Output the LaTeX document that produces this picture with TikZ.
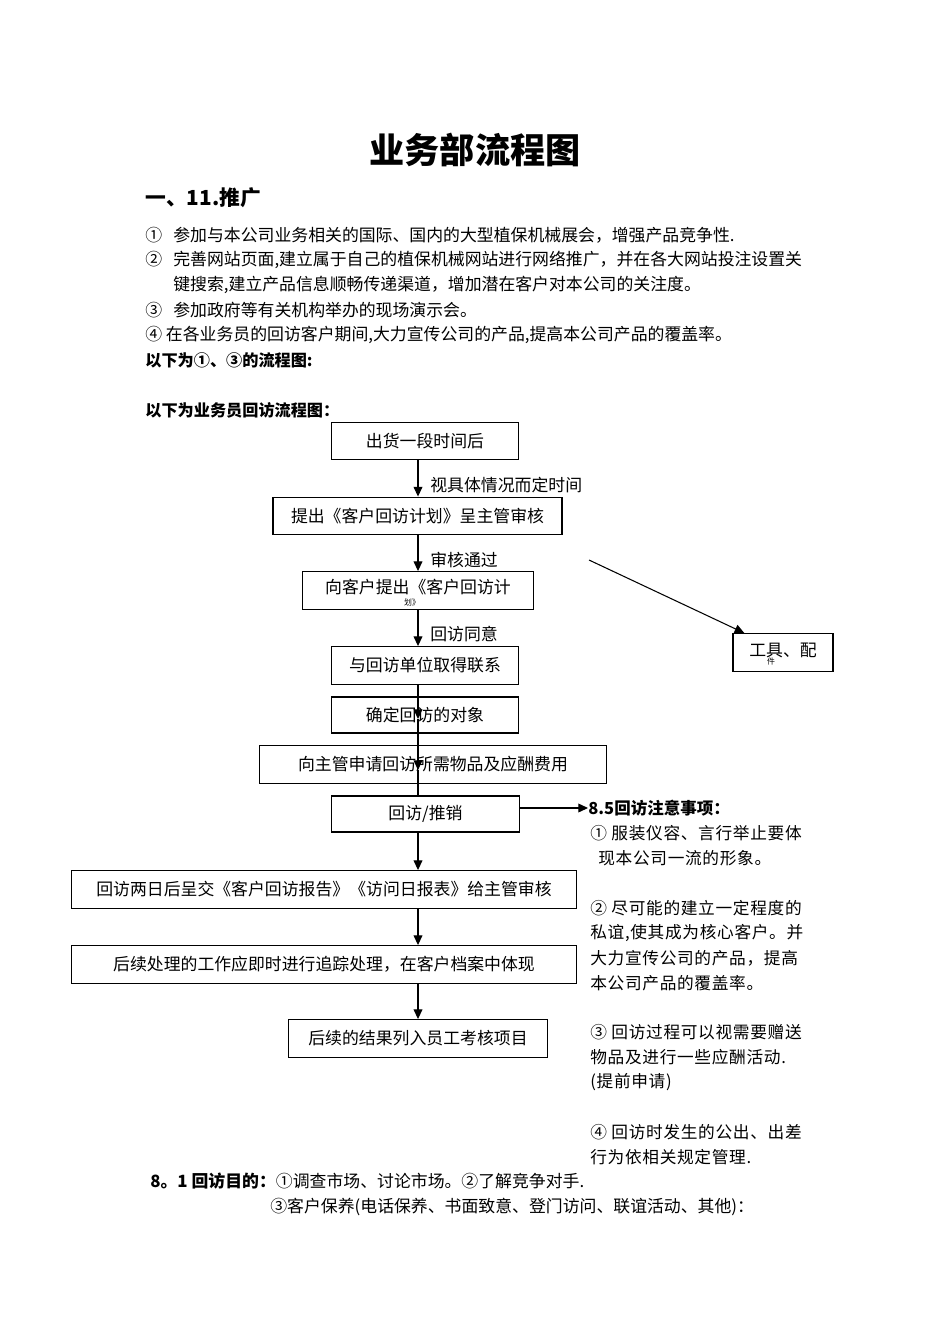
\documentclass[tikz,border=0pt]{standalone}
\usepackage{fontspec}
\setmainfont{Noto Sans CJK SC}
\newfontfamily\notefont[LetterSpace=4]{Noto Sans CJK SC}
\usepackage{tikz}
\usetikzlibrary{arrows.meta,calc}

\begin{document}
\begin{tikzpicture}[x=0.02cm, y=-0.02cm, every node/.style={font=\fontsize{9.6}{12}\selectfont, inner sep=0pt}]
  \tikzstyle{fbox}=[rectangle,draw,line width=0.8pt,minimum width=3.75cm,minimum height=0.75cm]
  \tikzstyle{flow}=[line width=0.6pt,-{Triangle[length=5.5pt,width=5pt]}]
  \tikzstyle{tag}=[anchor=west]
  \tikzstyle{bold}=[font=\fontsize{9.2}{12}\selectfont\bfseries]
  \tikzstyle{tiny}=[font=\fontsize{4.5}{5}\selectfont]
  \useasboundingbox (0,0) rectangle (950,1344);
  % heading and promotion items
  \node[font=\fontsize{20}{24}\selectfont\bfseries] (title) at (475,150) {业务部流程图};
  \node[tag,font=\fontsize{11.8}{14}\selectfont\bfseries] (sec) at (145,198) {一、11.推广};
  \node[tag] (p1) at (145,235) {\makebox[0.56cm][l]{①}参加与本公司业务相关的国际、国内的大型植保机械展会，增强产品竞争性.};
  \node[tag] (p2) at (145,260) {\makebox[0.56cm][l]{②}完善网站页面,建立属于自己的植保机械网站进行网络推广，并在各大网站投注设置关};
  \node[tag] (p2b) at (173,285) {键搜索,建立产品信息顺畅传递渠道，增加潜在客户对本公司的关注度。};
  \node[tag] (p3) at (145,310) {\makebox[0.56cm][l]{③}参加政府等有关机构举办的现场演示会。};
  \node[tag] (p4) at (145,335) {④ 在各业务员的回访客户期间,大力宣传公司的产品,提高本公司产品的覆盖率。};
  \node[tag,bold] (lead1) at (145,360) {以下为①、③的流程图:};
  \node[tag,bold] (lead2) at (145,410) {以下为业务员回访流程图：};
  % visit flow
  \coordinate (spine) at (418,0);
  \node[fbox] (b1) at (425,441) {出货一段时间后};
  \node[fbox,minimum width=5.78cm] (b2) at (417.5,516) {提出《客户回访计划》呈主管审核};
  \node[fbox,minimum width=4.62cm] (b3) at (418,590.5) {};
  \node (b3t) at (418,587) {向客户提出《客户回访计};
  \node[tiny] (b3c) at (412,602) {划》};
  \node[fbox] (b4) at (425,665.5) {与回访单位取得联系};
  \node[fbox,minimum height=0.72cm] (b5) at (425,715) {确定回访的对象};
  \node[fbox,minimum width=6.93cm] (b6) at (433,764.5) {向主管申请回访所需物品及应酬费用};
  \node[fbox,minimum height=0.72cm] (b7) at (425.5,814) {回访/推销};
  \node[fbox,minimum width=10.11cm] (b8) at (324,889.5) {回访两日后呈交《客户回访报告》《访问日报表》给主管审核};
  \node[fbox,minimum width=10.11cm] (b9) at (324,964.5) {后续处理的工作应即时进行追踪处理，在客户档案中体现};
  \node[fbox,minimum width=5.19cm] (b10) at (418,1038.5) {后续的结果列入员工考核项目};
  \node[fbox,minimum width=2cm] (b11) at (783,652.5) {};
  \node (b11t) at (783,650) {工具、配};
  \node[tiny] (b11c) at (771,662) {件};
  \coordinate (k5) at ($(b5.center -| spine)+(0,4)$);
  \coordinate (k6) at ($(b6.center -| spine)+(0,5.5)$);
  \coordinate (d0) at (589,560);
  \draw[flow] (b1.south -| spine) -- (b2.north -| spine);
  \node[tag] (l1) at (430,485) {视具体情况而定时间};
  \draw[flow] (b2.south -| spine) -- (b3.north -| spine);
  \node[tag] (l2) at (430,560) {审核通过};
  \draw[flow] (b3.south -| spine) -- (b4.north -| spine);
  \node[tag] (l3) at (430,634) {回访同意};
  \draw[flow] (b4.south -| spine) -- (k5);
  \draw[flow] (k5) -- (k6);
  \draw[line width=0.6pt] (k6) -- (b7.north -| spine);
  \draw[flow] (b7.south -| spine) -- (b8.north -| spine);
  \draw[flow] (b8.south -| spine) -- (b9.north -| spine);
  \draw[flow] (b9.south -| spine) -- (b10.north -| spine);
  \draw[flow] (d0) -- ($(b11.north west)+(12,0)$);
  % notes on the right
  \node[tag,font=\fontsize{9.4}{12}\selectfont\bfseries] (n0) at (588,808) {8.5回访注意事项：};
  \draw[flow] (b7.east |- n0.west) -- (n0.west);
  \foreach \i/\x/\y/\t in {1/590/833/{① 服装仪容、言行举止要体},
      2/598/858/{现本公司一流的形象。},
      3/590/908/{② 尽可能的建立一定程度的},
      4/590/933/{私谊,使其成为核心客户。并},
      5/590/958/{大力宣传公司的产品，提高},
      6/590/983/{本公司产品的覆盖率。},
      7/590/1032/{③ 回访过程可以视需要赠送},
      8/590/1057/{物品及进行一些应酬活动.},
      9/590/1082/{(提前申请)},
      10/590/1132/{④ 回访时发生的公出、出差},
      11/590/1157/{行为依相关规定管理.}}
    \node[tag,font=\notefont\fontsize{9.5}{12}\selectfont] (n\i) at (\x,\y) {\t};
  % purpose of the visits
  \node[tag] (g1) at (150,1181) {{\bfseries 8。1 回访目的：}①调查市场、讨论市场。②了解竞争对手.};
  \node[tag] (g2) at (270,1207) {③客户保养(电话保养、书面致意、登门访问、联谊活动、其他)：};
\end{tikzpicture}
\end{document}
